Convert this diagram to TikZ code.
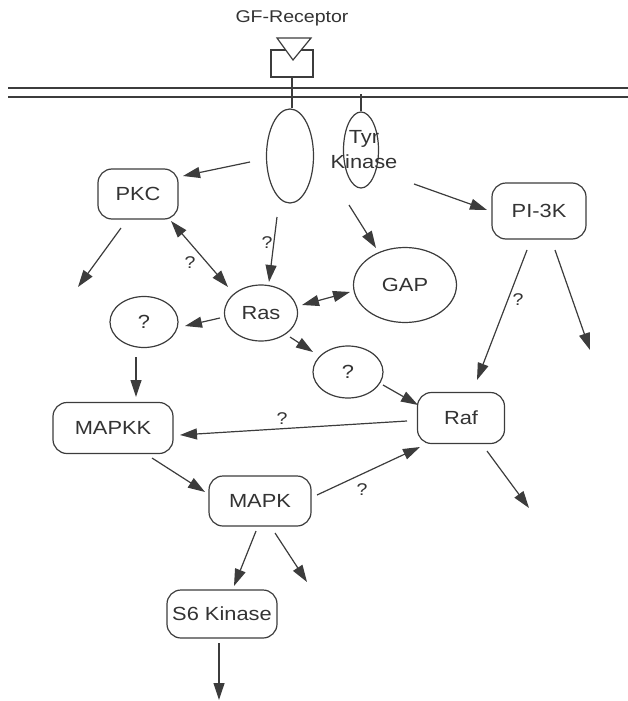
\documentclass[tikz,border=0pt]{standalone}
\usepackage{fontspec}
\setmainfont{Liberation Sans}[FakeStretch=1.15]
\usetikzlibrary{arrows.meta,shapes.geometric}
\definecolor{ink}{HTML}{3C3C3C}
\definecolor{txt}{HTML}{333333}
\tikzset{
  base/.style={draw=ink, line width=1.2pt, text=txt, inner sep=0pt, font=\fontsize{19}{25}\selectfont},
  rbox/.style={base, rectangle, rounded corners=14pt},
  ell/.style={base, ellipse},
  lbl/.style={text=txt, inner sep=0pt, font=\fontsize{19}{25}\selectfont},
  qlbl/.style={text=txt, inner sep=0pt, font=\fontsize{17}{20}\selectfont},
  tip/.style={Triangle[length=17pt,width=11pt]},
  arr/.style={draw=ink, line width=1.2pt, -{Triangle[length=17pt,width=11pt]}},
  darr/.style={draw=ink, line width=1.2pt, {Triangle[length=17pt,width=11pt]}-{Triangle[length=17pt,width=11pt]}},
  plain/.style={draw=ink, line width=1.2pt}
}
\begin{document}
\begin{tikzpicture}[x=1pt,y=-1pt]
\useasboundingbox (0,0) rectangle (628,701);
% membrane
\coordinate (mL1) at (8,88);  \coordinate (mR1) at (628,88);
\coordinate (mL2) at (8,97);  \coordinate (mR2) at (628,97);
\draw[plain] (mL1) -- (mR1);
\draw[plain] (mL2) -- (mR2);
% receptor
\node[lbl, font=\fontsize{17}{20}\selectfont] (gfr) at (292,18) {GF-Receptor};
\node[base, rectangle, minimum width=42pt, minimum height=27pt] (recbox) at (292,63.5) {};
\coordinate (t1) at (277,38); \coordinate (t2) at (311,38); \coordinate (t3) at (293,60);
\filldraw[plain, fill=white] (t1) -- (t2) -- (t3) -- cycle;
% nodes
\node[ell, minimum width=47pt, minimum height=94pt] (e1) at (290,156) {};
\node[ell, minimum width=35pt, minimum height=76pt] (tyr) at (361,150) {};
\node[lbl, align=center] (tyrlbl) at (364,150) {Tyr\\Kinase};
\node[rbox, minimum width=80pt, minimum height=50pt] (pkc) at (138,194) {PKC};
\node[ell, minimum width=73pt, minimum height=56pt] (ras) at (261,313) {Ras};
\node[ell, minimum width=68pt, minimum height=51pt] (q1) at (144,322) {?};
\node[ell, minimum width=103pt, minimum height=75pt] (gap) at (405,285) {GAP};
\node[rbox, minimum width=94pt, minimum height=56pt] (pi3k) at (539,211) {PI-3K};
\node[ell, minimum width=70pt, minimum height=52pt] (q2) at (348,372) {?};
\node[rbox, minimum width=87pt, minimum height=51pt] (raf) at (461,418) {Raf};
\node[rbox, minimum width=120pt, minimum height=51pt] (mapkk) at (113,428) {MAPKK};
\node[rbox, minimum width=102pt, minimum height=50pt] (mapk) at (260,501) {MAPK};
\node[rbox, minimum width=110pt, minimum height=48pt] (s6) at (222,614) {S6 Kinase};
% stems
\draw[plain] (recbox.south) -- (recbox.south |- e1.north);
\coordinate (tyrtop) at (361,94);
\draw[plain] (tyrtop) -- (tyr.north);
% free ends
\coordinate (fPKC) at (78,287);
\coordinate (fPI) at (590,350);
\coordinate (fRaf) at (529,508);
\coordinate (fMAPK) at (307,582);
\coordinate (fS6) at (219,700);
% connectors
\draw[arr] ([shift={(-40,6)}]e1.center) -- ([shift={(45,-18)}]pkc.center);
\draw[arr] ([shift={(-17,34)}]pkc.center) -- (fPKC);
\draw[darr] ([shift={(33,27)}]pkc.center) -- ([shift={(-33,-26)}]ras.center);
\draw[arr] ([shift={(-13,61)}]e1.center) -- ([shift={(8,-31)}]ras.center);
\draw[arr] ([shift={(-12,55)}]tyr.center) -- ([shift={(-29,-37)}]gap.center);
\draw[arr] ([shift={(53,34)}]tyr.center) -- ([shift={(-52,-1)}]pi3k.center);
\draw[arr] ([shift={(-41,5)}]ras.center) -- ([shift={(41,4)}]q1.center);
\draw[darr] ([shift={(41,-8)}]ras.center) -- ([shift={(-55,7)}]gap.center);
\draw[arr] ([shift={(29,24)}]ras.center) -- ([shift={(-35,-20)}]q2.center);
\draw[arr] ([shift={(35,13)}]q2.center) -- ([shift={(-43,-13)}]raf.center);
\draw[arr] ([shift={(-12,39)}]pi3k.center) -- ([shift={(16,-38)}]raf.center);
\draw[arr] ([shift={(16,39)}]pi3k.center) -- (fPI);
\draw[arr] ([shift={(-8,35)}]q1.center) -- ([shift={(23,-31)}]mapkk.center);
\draw[arr] ([shift={(-54,3)}]raf.center) -- ([shift={(67,7)}]mapkk.center);
\draw[arr] ([shift={(39,30)}]mapkk.center) -- ([shift={(-55,-9)}]mapk.center);
\draw[arr] ([shift={(57,-6)}]mapk.center) -- ([shift={(-41,29)}]raf.center);
\draw[arr] ([shift={(26,33)}]raf.center) -- (fRaf);
\draw[arr] ([shift={(-4,30)}]mapk.center) -- ([shift={(12,-28)}]s6.center);
\draw[arr] ([shift={(15,32)}]mapk.center) -- (fMAPK);
\draw[arr] ([shift={(-3,29)}]s6.center) -- (fS6);
% question labels
\node[qlbl] (qa) at (267,243) {?};
\node[qlbl] (qb) at (190,263) {?};
\node[qlbl] (qc) at (518,300) {?};
\node[qlbl] (qd) at (282,419) {?};
\node[qlbl] (qe) at (362,490) {?};
\end{tikzpicture}
\end{document}
